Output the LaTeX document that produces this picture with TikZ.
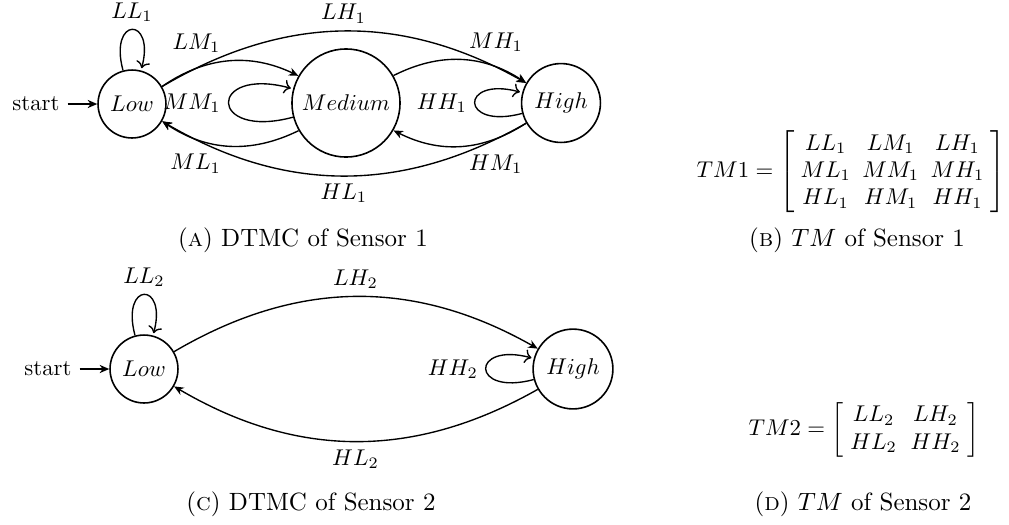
\documentclass[tikz,border=0pt]{standalone}
\usetikzlibrary{arrows.meta}
\begin{document}
\begin{tikzpicture}[x=0.4386pt, y=0.4386pt,
  state/.style={circle, draw, line width=0.7pt, inner sep=0pt},
  tr/.style={-{Stealth[length=4.2pt,width=3.6pt,inset=1.3pt]}, line width=0.6pt},
  subcaption/.style={font=\fontsize{10.95}{13.6}\selectfont}]
\useasboundingbox (0,0) rectangle (1009,-524);

% ---- DTMC of sensor 1 ----
\node[state, minimum size=29.8pt] (low1)  at (132,-104) {$Low$};
\node[state, minimum size=47.4pt] (med1)  at (346,-103) {$Medium$};
\node[state, minimum size=34.6pt] (high1) at (561,-103) {$High$};
\node (st1) at (36,-104) {start};
\draw[tr] (st1) -- (low1);

\path (low1)  edge[tr, loop above] node {$LL_1$} (low1)
      (low1)  edge[tr, bend left] node[above left] {$LM_1$} (med1)
      (low1)  edge[tr, bend left] node[above] {$LH_1$} (high1)
      (med1)  edge[tr, loop left] node {$MM_1$} (med1)
      (med1)  edge[tr, bend left] node[above right] {$MH_1$} (high1)
      (med1)  edge[tr, bend left] node[below left] {$ML_1$} (low1)
      (high1) edge[tr, loop left] node {$HH_1$} (high1)
      (high1) edge[tr, bend left] node[below right] {$HM_1$} (med1)
      (high1) edge[tr, bend left] node[below] {$HL_1$} (low1);

\node[subcaption] (capa) at (303,-240) {(\textsc{a}) DTMC of Sensor 1};

% ---- transition matrix of sensor 1 ----
\node (tm1) at (851,-172) {\setlength{\arraycolsep}{2.5pt}$TM1 = \left[\begin{array}{ccc}
  LL_1 & LM_1 & LH_1\\
  ML_1 & MM_1 & MH_1\\
  HL_1 & HM_1 & HH_1
\end{array}\right]$};
\node[subcaption] (capb) at (857,-240) {(\textsc{b}) $TM$ of Sensor 1};

% ---- DTMC of sensor 2 ----
\node[state, minimum size=29.8pt] (low2)  at (144,-369) {$Low$};
\node[state, minimum size=35.0pt] (high2) at (573,-369) {$High$};
\node (st2) at (48,-369) {start};
\draw[tr] (st2) -- (low2);

\path (low2)  edge[tr, loop above] node {$LL_2$} (low2)
      (low2)  edge[tr, bend left] node[above] {$LH_2$} (high2)
      (high2) edge[tr, loop left] node {$HH_2$} (high2)
      (high2) edge[tr, bend left] node[below] {$HL_2$} (low2);

\node[subcaption] (capc) at (311,-504) {(\textsc{c}) DTMC of Sensor 2};

% ---- transition matrix of sensor 2 ----
\node (tm2) at (864,-430) {\setlength{\arraycolsep}{3pt}$TM2 = \left[\begin{array}{cc}
  LL_2 & LH_2\\
  HL_2 & HH_2
\end{array}\right]$};
\node[subcaption] (capd) at (863,-504) {(\textsc{d}) $TM$ of Sensor 2};
\end{tikzpicture}
\end{document}
